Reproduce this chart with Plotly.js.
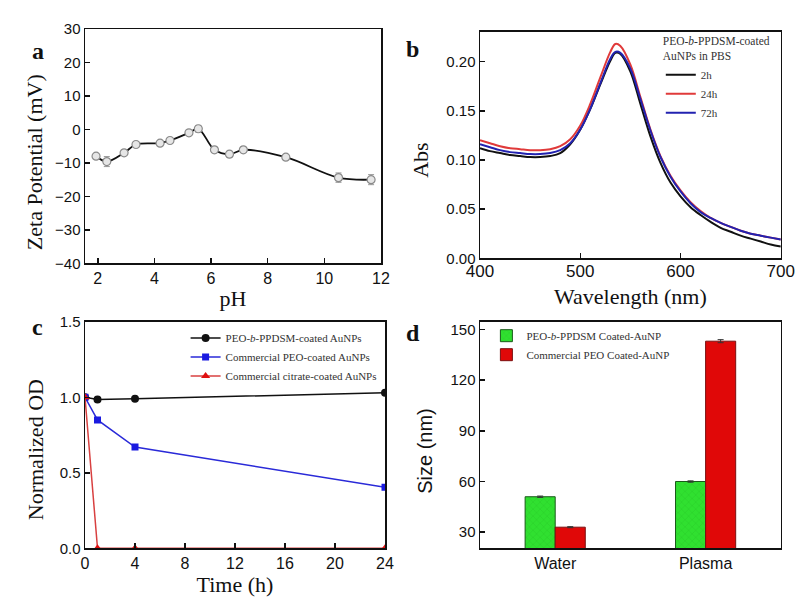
<!DOCTYPE html>
<html>
<head>
<meta charset="utf-8">
<script src="https://cdn.plot.ly/plotly-3.0.1.min.js"></script>
<style>html,body{margin:0;padding:0;background:#fff;}#chart{width:800px;height:606px;}</style>
</head>
<body>
<div id="chart"></div>
<script>
// Panel a: zeta potential vs pH
const pH = [1.94, 2.32, 2.93, 3.35, 4.2, 4.55, 5.22, 5.55, 6.12, 6.65, 7.14, 8.64, 10.5, 11.65];
const zeta = [-8.0, -9.6, -7.0, -4.5, -4.1, -3.3, -1.0, 0.2, -6.1, -7.4, -6.1, -8.3, -14.4, -15.0];
const zetaErr = [0.8, 1.5, 0.6, 0.7, 0.6, 0.6, 0.7, 1.0, 0.8, 0.9, 0.8, 0.7, 1.4, 1.5];

// Panel b: absorbance spectra
const wavelength = [400,410,420,430,440,450,460,470,480,490,500,510,520,530,535,540,550,560,570,580,590,600,610,620,630,640,650,660,670,680,690,700];
const abs2h  = [.112,.109,.107,.105,.104,.103,.103,.104,.107,.116,.131,.152,.177,.201,.209,.208,.190,.157,.124,.097,.077,.063,.052,.044,.037,.031,.027,.023,.020,.017,.014,.012];
const abs24h = [.120,.117,.114,.112,.111,.110,.110,.111,.114,.121,.135,.157,.184,.210,.218,.216,.197,.164,.131,.104,.084,.069,.057,.048,.041,.036,.032,.028,.025,.023,.021,.019];
const abs72h = [.116,.113,.110,.108,.107,.106,.106,.107,.110,.117,.131,.152,.178,.203,.210,.209,.193,.162,.130,.103,.083,.068,.056,.047,.041,.036,.032,.028,.025,.023,.021,.019];

// Panel c: normalized OD vs time
const timeH = [0, 1, 4, 24];
const odPPDSM = [1.0, 0.985, 0.99, 1.03];
const odPEO = [1.0, 0.85, 0.67, 0.405];
const odCitrate = [1.0, 0.0, 0.0, 0.0];

// Panel d: hydrodynamic size
const media = ["Water", "Plasma"];
const sizePPDSM = [51, 60];
const sizePPDSMErr = [0.4, 0.4];
const sizePEO = [33, 143];
const sizePEOErr = [0.3, 0.9];

const serif = "Liberation Serif, Times New Roman, serif";
const sans = "Liberation Sans, Arial, sans-serif";

const traces = [
  {x: pH, y: zeta, xaxis: 'x', yaxis: 'y', mode: 'lines+markers', type: 'scatter', showlegend: false,
   line: {color: '#111', width: 1.8, shape: 'spline', smoothing: 1},
   marker: {symbol: 'circle', size: 8, color: '#e6e6e6', line: {color: '#8a8a8a', width: 1.2}},
   error_y: {type: 'data', array: zetaErr, visible: true, color: '#999', thickness: 1, width: 3}},

  {x: wavelength, y: abs2h, xaxis: 'x2', yaxis: 'y2', mode: 'lines', name: '2h', legend: 'legend',
   line: {color: '#111', width: 2, shape: 'spline'}},
  {x: wavelength, y: abs24h, xaxis: 'x2', yaxis: 'y2', mode: 'lines', name: '24h', legend: 'legend',
   line: {color: '#e03a3a', width: 2, shape: 'spline'}},
  {x: wavelength, y: abs72h, xaxis: 'x2', yaxis: 'y2', mode: 'lines', name: '72h', legend: 'legend',
   line: {color: '#2222b0', width: 2, shape: 'spline'}},

  {x: timeH, y: odPPDSM, xaxis: 'x3', yaxis: 'y3', mode: 'lines+markers', name: 'PEO-<i>b</i>-PPDSM-coated AuNPs', legend: 'legend2',
   line: {color: '#111', width: 1.5}, marker: {symbol: 'circle', size: 8, color: '#111'}},
  {x: timeH, y: odPEO, xaxis: 'x3', yaxis: 'y3', mode: 'lines+markers', name: 'Commercial PEO-coated AuNPs', legend: 'legend2',
   line: {color: '#2a2ad8', width: 1.5}, marker: {symbol: 'square', size: 7, color: '#1a1ae0'}},
  {x: timeH, y: odCitrate, xaxis: 'x3', yaxis: 'y3', mode: 'lines+markers', name: 'Commercial citrate-coated AuNPs', legend: 'legend2',
   line: {color: '#d84040', width: 1.5}, marker: {symbol: 'triangle-up', size: 8, color: '#e01010'}},

  {x: media, y: sizePPDSM, xaxis: 'x4', yaxis: 'y4', type: 'bar', name: 'PEO-<i>b</i>-PPDSM Coated-AuNP', legend: 'legend3',
   marker: {color: '#30e030', line: {color: '#1a5a1a', width: 1},
            pattern: {shape: 'x', fillmode: 'overlay', fgcolor: '#20b020', size: 5, solidity: 0.15}},
   error_y: {type: 'data', array: sizePPDSMErr, visible: true, color: '#333', thickness: 1, width: 3}},
  {x: media, y: sizePEO, xaxis: 'x4', yaxis: 'y4', type: 'bar', name: 'Commercial PEO Coated-AuNP', legend: 'legend3',
   marker: {color: '#e00808', line: {color: '#7a1010', width: 1}},
   error_y: {type: 'data', array: sizePEOErr, visible: true, color: '#333', thickness: 1, width: 3}}
];

function ax(extra) {
  return Object.assign({
    showline: true, mirror: true, linecolor: '#111', linewidth: 1.5,
    ticks: 'inside', ticklen: 5, tickwidth: 1.5, tickcolor: '#111',
    showgrid: false, zeroline: false,
    tickfont: {family: sans, size: 15, color: '#111'}
  }, extra);
}

const yTitle = {family: serif, size: 22, color: '#111'};

const layout = {
  width: 800, height: 606,
  margin: {l: 0, r: 0, t: 0, b: 0},
  paper_bgcolor: '#fff', plot_bgcolor: '#fff',
  barmode: 'group', bargap: 0.6, bargroupgap: 0,
  xaxis: ax({domain: [0.10625, 0.47625], anchor: 'y', range: [1.55, 12], dtick: 2,
    tickfont: {family: sans, size: 16, color: '#111'},
    title: {text: 'pH', font: {family: serif, size: 22, color: '#111'}, standoff: 4}}),
  yaxis: ax({domain: [0.5655, 0.9521], anchor: 'x', range: [-40, 30], dtick: 10}),
  xaxis2: ax({domain: [0.6, 0.976], anchor: 'y2', range: [400, 700], dtick: 100, ticklabelstandoff: -3,
    tickfont: {family: sans, size: 17, color: '#111'},
    title: {text: 'Wavelength (nm)', font: {family: serif, size: 22, color: '#111'}, standoff: 8}}),
  yaxis2: ax({domain: [0.5738, 0.9472], anchor: 'x2', range: [0, 0.2302], dtick: 0.05, tickformat: '.2f'}),
  xaxis3: ax({domain: [0.10625, 0.48125], anchor: 'y3', range: [0, 24], dtick: 4,
    tickfont: {family: sans, size: 16, color: '#111'},
    title: {text: 'Time (h)', font: {family: serif, size: 22, color: '#111'}, standoff: 4}}),
  yaxis3: ax({domain: [0.0952, 0.4691], anchor: 'x3', range: [0, 1.5], dtick: 0.5, tickformat: '.1f'}),
  xaxis4: ax({domain: [0.6, 0.976], anchor: 'y4', range: [-0.5, 1.5], ticks: '',
    tickfont: {family: sans, size: 16, color: '#111'}}),
  yaxis4: ax({domain: [0.0952, 0.4691], anchor: 'x4', range: [20.5, 154.5], tickvals: [30, 60, 90, 120, 150]}),
  legend: {x: 0.826, y: 0.95, xanchor: 'left', yanchor: 'top', bgcolor: 'rgba(0,0,0,0)',
    font: {family: serif, size: 11, color: '#333'}, itemwidth: 30, tracegroupgap: 0,
    title: {text: 'PEO-<i>b</i>-PPDSM-coated<br>AuNPs in PBS', font: {family: serif, size: 11.5, color: '#333'}}},
  legend2: {x: 0.232, y: 0.466, xanchor: 'left', yanchor: 'top', bgcolor: 'rgba(0,0,0,0)',
    font: {family: serif, size: 11, color: '#333'}, itemwidth: 30},
  legend3: {x: 0.608, y: 0.47, xanchor: 'left', yanchor: 'top', bgcolor: 'rgba(0,0,0,0)',
    font: {family: serif, size: 11, color: '#333'}, itemwidth: 30},
  annotations: [
    {text: '<b>a</b>', x: 0.0375, y: 0.94, xref: 'paper', yref: 'paper', showarrow: false, font: {family: serif, size: 24, color: '#111'}},
    {text: '<b>b</b>', x: 0.516, y: 0.944, xref: 'paper', yref: 'paper', showarrow: false, font: {family: serif, size: 24, color: '#111'}},
    {text: '<b>c</b>', x: 0.0375, y: 0.46, xref: 'paper', yref: 'paper', showarrow: false, font: {family: serif, size: 24, color: '#111'}},
    {text: '<b>d</b>', x: 0.516, y: 0.45, xref: 'paper', yref: 'paper', showarrow: false, font: {family: serif, size: 24, color: '#111'}},
    {text: 'Zeta Potential (mV)', textangle: -90, x: 0.044, y: 0.7327, xref: 'paper', yref: 'paper', xanchor: 'center', yanchor: 'middle', showarrow: false, font: yTitle},
    {text: 'Abs', textangle: -90, x: 0.526, y: 0.736, xref: 'paper', yref: 'paper', xanchor: 'center', yanchor: 'middle', showarrow: false, font: yTitle},
    {text: 'Normalized OD', textangle: -90, x: 0.044, y: 0.2574, xref: 'paper', yref: 'paper', xanchor: 'center', yanchor: 'middle', showarrow: false, font: yTitle},
    {text: 'Size (nm)', textangle: -90, x: 0.531, y: 0.2558, xref: 'paper', yref: 'paper', xanchor: 'center', yanchor: 'middle', showarrow: false, font: {family: sans, size: 20, color: '#111'}}
  ]
};

Plotly.newPlot('chart', traces, layout, {staticPlot: true, displayModeBar: false});
</script>
</body>
</html>
